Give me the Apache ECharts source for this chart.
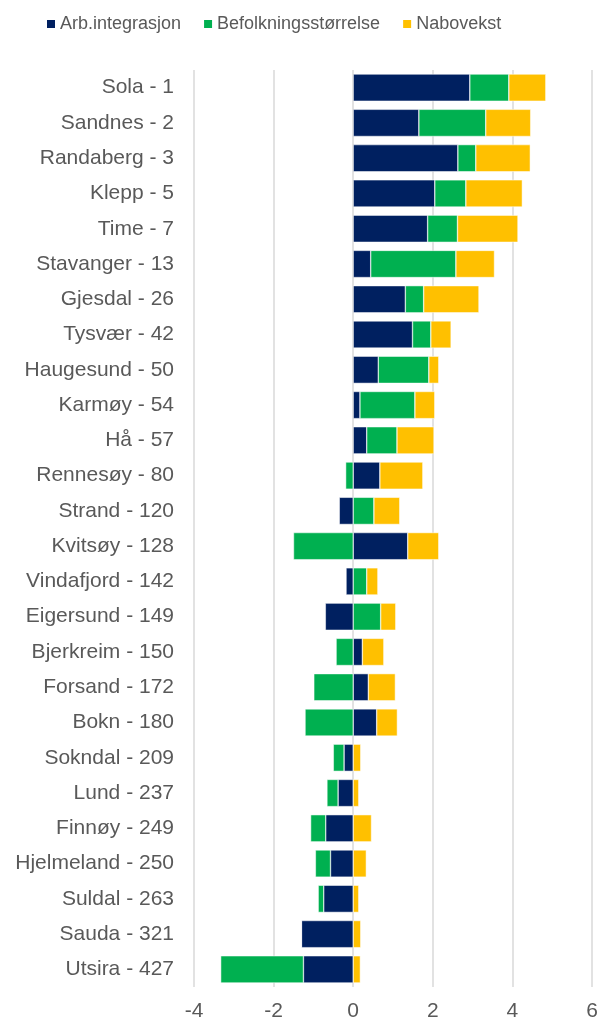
<!DOCTYPE html>
<html lang="no">
<head>
    <meta charset="UTF-8">
    <title>Kommuner - stablede søyler</title>
    <script src="https://cdn.jsdelivr.net/npm/echarts@6/dist/echarts.min.js"></script>
    <style>
        html, body { margin: 0; padding: 0; background: #fff; }
        #chart { width: 607px; height: 1023px; }
    </style>
</head>
<body>
    <div id="chart"></div>
    <script>
    // kategorier (ovenfra og ned)
    var kommuner = ['Sola - 1', 'Sandnes - 2', 'Randaberg - 3', 'Klepp - 5', 'Time - 7', 'Stavanger - 13',
        'Gjesdal - 26', 'Tysvær - 42', 'Haugesund - 50', 'Karmøy - 54', 'Hå - 57', 'Rennesøy - 80',
        'Strand - 120', 'Kvitsøy - 128', 'Vindafjord - 142', 'Eigersund - 149', 'Bjerkreim - 150',
        'Forsand - 172', 'Bokn - 180', 'Sokndal - 209', 'Lund - 237', 'Finnøy - 249',
        'Hjelmeland - 250', 'Suldal - 263', 'Sauda - 321', 'Utsira - 427'];

    var arbIntegrasjon = [2.93, 1.65, 2.63, 2.05, 1.87, 0.44, 1.31, 1.49, 0.63, 0.17, 0.34, 0.67,
        -0.35, 1.37, -0.18, -0.70, 0.23, 0.38, 0.59, -0.23, -0.38, -0.69, -0.57, -0.74, -1.30, -1.25];
    var befolkning = [0.98, 1.68, 0.45, 0.78, 0.75, 2.14, 0.46, 0.46, 1.27, 1.38, 0.76, -0.19,
        0.52, -1.50, 0.34, 0.69, -0.43, -0.99, -1.21, -0.27, -0.28, -0.38, -0.38, -0.14, 0, -2.08];
    var nabovekst = [0.93, 1.13, 1.37, 1.42, 1.52, 0.97, 1.39, 0.51, 0.25, 0.50, 0.93, 1.08,
        0.65, 0.78, 0.28, 0.38, 0.54, 0.68, 0.52, 0.19, 0.14, 0.46, 0.33, 0.14, 0.19, 0.18];

    var xTicks = [-4, -2, 0, 2, 4, 6];

    var tekstFarge = '#595959';
    var font = 'Liberation Sans, Arial, sans-serif';

    var chart = echarts.init(document.getElementById('chart'));

    function serie(navn, data, farge) {
        return {
            name: navn,
            type: 'bar',
            stack: 'total',
            data: data,
            barWidth: '77%',
            itemStyle: { color: farge, borderColor: '#ffffff', borderWidth: 0.5 }
        };
    }

    var option = {
        animation: false,
        textStyle: { fontFamily: font },
        legend: {
            top: 10,
            left: 40,
            itemWidth: 10,
            itemHeight: 10,
            itemGap: 21,
            icon: 'rect',
            textStyle: { color: tekstFarge, fontSize: 18, fontFamily: font, padding: [0, 0, 0, -1] },
            data: ['Arb.integrasjon', 'Befolkningsstørrelse', 'Nabovekst']
        },
        grid: { left: 194, right: 15, top: 70, bottom: 36 },
        xAxis: {
            type: 'value',
            min: xTicks[0],
            max: xTicks[xTicks.length - 1],
            interval: 2,
            axisLine: { show: false },
            axisTick: { show: false },
            axisLabel: { color: tekstFarge, fontSize: 21, margin: 14 },
            splitLine: { lineStyle: { color: '#d9d9d9', width: 1.5 } }
        },
        yAxis: {
            type: 'category',
            inverse: true,
            data: kommuner,
            axisLine: { show: false },
            axisTick: { show: false },
            axisLabel: { color: tekstFarge, fontSize: 21, margin: 20 }
        },
        series: [
            serie('Arb.integrasjon', arbIntegrasjon, '#002060'),
            serie('Befolkningsstørrelse', befolkning, '#00B050'),
            serie('Nabovekst', nabovekst, '#FFC000')
        ]
    };

    chart.setOption(option);
    </script>
</body>
</html>
